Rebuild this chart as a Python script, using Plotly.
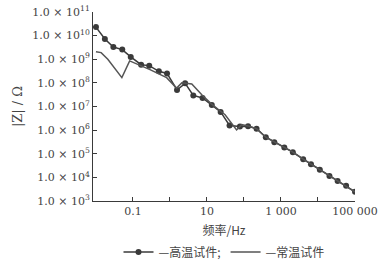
import plotly.graph_objects as go

# High-temperature specimen (markers + line)
freq_high = [0.01, 0.0174, 0.0295, 0.0513, 0.0871, 0.166, 0.275, 0.501, 0.832, 1.55,
             2.57, 4.27, 7.59, 13.5, 23.4, 40.7, 77.6, 129, 219, 389,
             661, 1230, 2090, 3980, 6460, 11200, 20400, 33900, 57500, 100000]
z_high = [2.29e10, 7.24e9, 3.31e9, 2.57e9, 1.26e9, 5.89e8, 5.37e8, 3.09e8, 2.51e8, 5.01e7,
          9.55e7, 2.95e7, 2.29e7, 1.15e7, 5.89e6, 1.58e6, 1.41e6, 1.45e6, 1.15e6, 5.01e5,
          3.09e5, 1.82e5, 1.17e5, 5.89e4, 3.63e4, 2.09e4, 1.15e4, 7.08e3, 4.37e3, 2.45e3]

# Room-temperature specimen (line only)
freq_room = [0.01, 0.0138, 0.0209, 0.0501, 0.0813, 0.155, 0.288, 0.813, 1.51, 2.09,
             3.89, 7.24, 12.9, 22.4, 30.9, 63.1, 87.1, 129, 219, 389,
             661, 1230, 2090, 3980, 6460, 11200, 20400, 33900, 57500, 100000]
z_room = [2.09e9, 1.91e9, 1.0e9, 1.66e8, 8.51e8, 5.62e8, 3.63e8, 1.66e8, 6.03e7, 1.0e8,
          8.91e7, 3.16e7, 1.32e7, 6.61e6, 4.47e6, 1.02e6, 1.70e6, 1.51e6, 1.15e6, 5.01e5,
          3.09e5, 1.82e5, 1.17e5, 5.89e4, 3.63e4, 2.09e4, 1.15e4, 7.08e3, 4.37e3, 2.45e3]

x_tickvals = [0.1, 1, 10, 100, 1000, 10000, 100000]
x_ticktext = ["0.1", "", "10", "", "1 000", "", "100 000"]
y_exponents = [3, 4, 5, 6, 7, 8, 9, 10, 11]

serif = "DejaVu Serif"
cjk = "Noto Sans CJK SC"
dark = "#3a3a3a"
txt = "#444444"

fig = go.Figure()
fig.add_trace(go.Scatter(
    x=freq_high, y=z_high, mode="lines+markers", name="—高温试件;",
    line=dict(color=dark, width=1.5),
    marker=dict(color=dark, size=6),
))
fig.add_trace(go.Scatter(
    x=freq_room, y=z_room, mode="lines", name="—常温试件",
    line=dict(color="#555555", width=1.5),
))

fig.update_layout(
    width=387, height=273,
    margin=dict(l=93, r=32, t=12, b=72),
    paper_bgcolor="white", plot_bgcolor="white",
    font=dict(family=serif, size=11, color=txt),
    legend=dict(
        orientation="h", x=0.5, xanchor="center",
        yref="container", y=0.13, yanchor="top",
        font=dict(family=cjk, size=12, color=txt),
        itemwidth=30, tracegroupgap=0, bgcolor="rgba(0,0,0,0)",
    ),
    xaxis=dict(
        type="log", range=[-2.08, 5.0], automargin=False,
        tickvals=x_tickvals, ticktext=x_ticktext,
        ticks="inside", ticklen=4, tickcolor=dark,
        showline=True, linecolor=dark, linewidth=1,
        showgrid=False, zeroline=False,
        tickfont=dict(family=serif, size=11, color=txt),
        title=dict(text="频率/Hz", font=dict(family=cjk, size=12, color=txt), standoff=10),
    ),
    yaxis=dict(
        type="log", range=[3, 11], automargin=False,
        tickvals=[10 ** e for e in y_exponents],
        ticktext=["1.0 × 10<sup>%d</sup>" % e for e in y_exponents],
        ticks="inside", ticklen=4, tickcolor=dark,
        showline=True, linecolor=dark, linewidth=1,
        showgrid=False, zeroline=False,
        tickfont=dict(family=serif, size=11, color=txt),
        title=dict(text="|Z| / Ω", font=dict(family=serif, size=13, color=txt), standoff=6),
    ),
)

fig.write_html("out.html")
